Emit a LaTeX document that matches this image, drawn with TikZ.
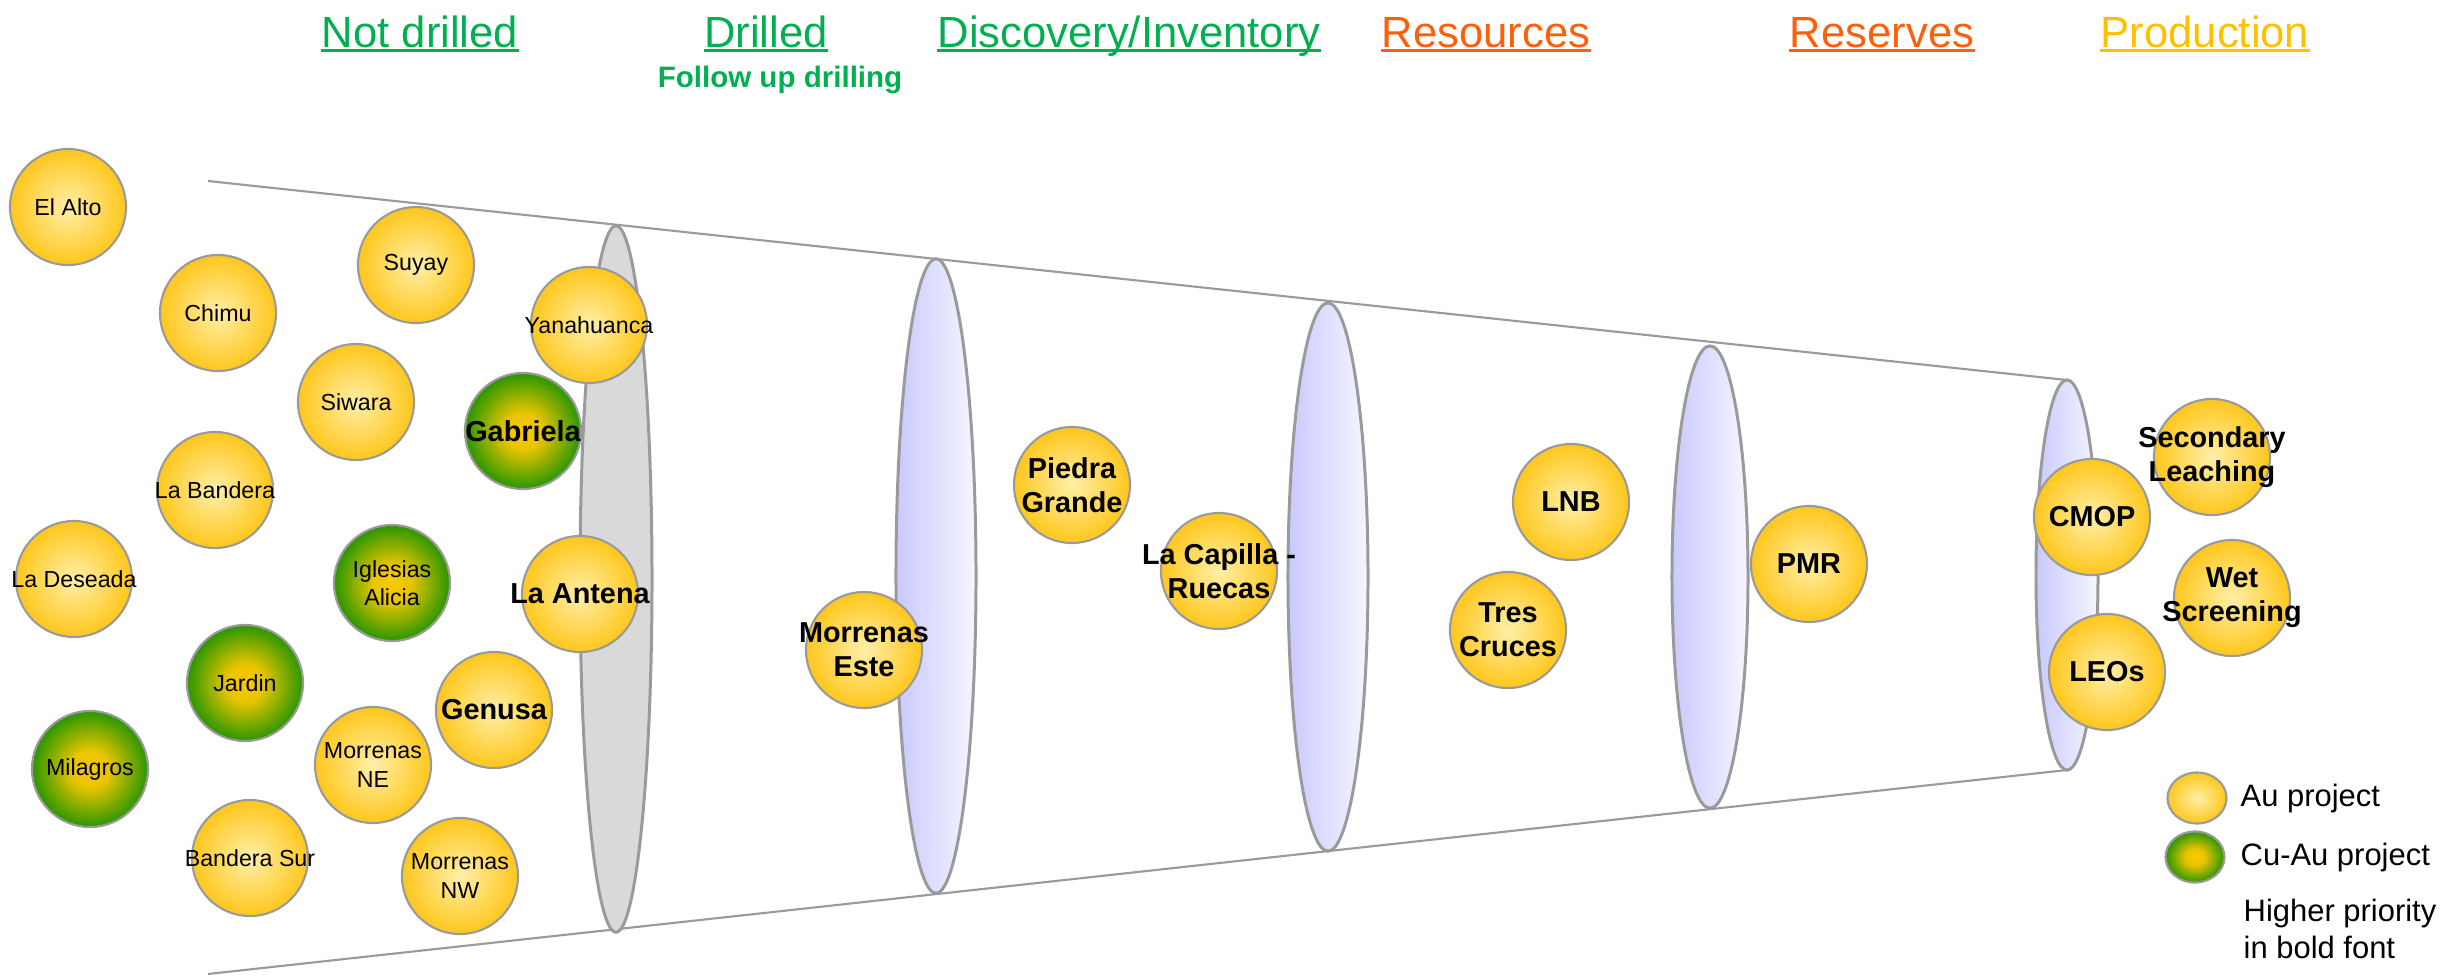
\documentclass[tikz,border=0pt]{standalone}
\usepackage{fontspec}
\setmainfont{Liberation Sans}
\usetikzlibrary{shapes.geometric}

\definecolor{drillgreen}{HTML}{00B050}
\definecolor{resorange}{HTML}{FF5F0A}
\definecolor{prodyellow}{HTML}{FFC000}
\definecolor{rimgrey}{HTML}{9A9A9A}
\definecolor{goldout}{HTML}{FFC71C}
\definecolor{goldin}{HTML}{FFEFA8}
\definecolor{cugreen}{HTML}{2A9600}
\definecolor{cuyellow}{HTML}{F9C900}
\definecolor{discgrey}{HTML}{D9D9D9}
\definecolor{lilac}{HTML}{C9C9FF}
\definecolor{lilacpale}{HTML}{F6F6FF}

% yellow core, green rim
\pgfdeclareradialshading{cuball}{\pgfpoint{0bp}{0bp}}{color(0bp)=(cuyellow); color(8bp)=(cuyellow!92!cugreen); color(25bp)=(cugreen); color(50bp)=(cugreen)}

\tikzset{
  proj/.style={circle, draw=rimgrey, line width=0.6pt, minimum size=1.16cm, inner sep=0pt},
  au/.style={proj, inner color=goldin, outer color=goldout},
  cuau/.style={proj, shade, shading=cuball},
  lo/.style={inner sep=0pt, align=center, font=\fontsize{6.6}{8}\selectfont},
  hi/.style={inner sep=0pt, align=center, font=\fontsize{8.2}{9.7}\selectfont\bfseries},
  stage/.style={inner sep=0pt, anchor=base, font=\fontsize{12.4}{14}\selectfont},
  lens/.style={draw=rimgrey, line width=0.85pt, left color=lilac, right color=lilacpale},
  keytext/.style={anchor=west, inner sep=0pt, align=left, font=\fontsize{8.8}{10.5}\selectfont},
}

\begin{document}
\begin{tikzpicture}[x=0.01cm, y=-0.01cm]
\useasboundingbox (0,0) rectangle (2447,975);

% stage titles
\foreach \nm/\x/\txt/\col in {nd/420/Not drilled/drillgreen, dr/766/Drilled/drillgreen,
    disc/1129/{Discovery/Inventory}/drillgreen, res/1486/Resources/resorange,
    rsv/1882/Reserves/resorange, prod/2205/Production/prodyellow}{
  \node[stage, text=\col] (\nm) at (\x,47) {\txt};
  \draw[\col, line width=0.6pt] ([yshift=-1pt]\nm.base west) -- ([yshift=-1pt]\nm.base east);
}
\node[anchor=base, inner sep=0pt, text=drillgreen, font=\fontsize{8.4}{10}\selectfont\bfseries] (fud) at (780,87) {Follow up drilling};

% funnel
\coordinate (tl) at (208,181);
\coordinate (tr) at (2067,380);
\coordinate (bl) at (208,974);
\coordinate (br) at (2067,770);

\draw [rimgrey, line width=0.6pt] (tl) -- (tr);
\draw [rimgrey, line width=0.6pt] (bl) -- (br);

\draw [draw=rimgrey, line width=0.85pt, fill=discgrey] (616,579) ellipse (0.36cm and 3.53cm);
\draw [lens] (936,576) ellipse (0.40cm and 3.17cm);
\draw [lens] (1328,577) ellipse (0.40cm and 2.74cm);
\draw [lens] (1710,577) ellipse (0.38cm and 2.31cm);
\draw [lens] (2067,575) ellipse (0.31cm and 1.95cm);

% not drilled
\node[au, label={[lo]center:El Alto}] (elalto) at (68,207) {};
\node[au, label={[lo]center:Chimu}] (chimu) at (218,313) {};
\node[au, label={[lo]center:Suyay}] (suyay) at (416,265) {};
\node[au, label={[lo]center:Yanahuanca}] (yana) at (589,325) {};
\node[au, label={[lo]center:Siwara}] (siwara) at (356,402) {};
\node[cuau, label={[hi]center:Gabriela}] (gabriela) at (523,431) {};
\node[au, label={[lo]center:La Bandera}] (bandera) at (215,490) {};
\node[au, label={[lo]center:La Deseada}] (deseada) at (74,579) {};
\node[cuau, label={[lo]center:{Iglesias\\Alicia}}] (iglesias) at (392,583) {};
\node[au, label={[hi]center:La Antena}] (antena) at (580,594) {};
\node[cuau, label={[lo]center:Jardin}] (jardin) at (245,683) {};
\node[au, label={[hi]center:Genusa}] (genusa) at (494,710) {};
\node[au, label={[lo]center:{Morrenas\\NE}}] (morrne) at (373,765) {};
\node[cuau, label={[lo]center:Milagros}] (milagros) at (90,769) {};
\node[au, label={[lo]center:Bandera Sur}] (bandsur) at (250,858) {};
\node[au, label={[lo]center:{Morrenas\\NW}}] (morrnw) at (460,876) {};

% drilled onwards
\node[au, label={[hi]center:{Morrenas\\Este}}] (morreste) at (864,650) {};
\node[au, label={[hi]center:{Piedra\\Grande}}] (piedra) at (1072,485) {};
\node[au, label={[hi]center:{La Capilla -\\Ruecas}}] (capilla) at (1219,571) {};
\node[au, label={[hi]center:LNB}] (lnb) at (1571,502) {};
\node[au, label={[hi]center:{Tres\\Cruces}}] (tres) at (1508,630) {};
\node[au, label={[hi]center:PMR}] (pmr) at (1809,564) {};
\node[au, label={[hi]center:CMOP}] (cmop) at (2092,517) {};
\node[au, label={[hi]center:LEOs}] (leos) at (2107,672) {};
\node[au, label={[hi]center:{Secondary\\Leaching}}] (secleach) at (2212,457) {};
\node[au, label={[hi]center:{Wet\\Screening}}] (wetscr) at (2232,598) {};

% key
\node[ellipse, draw=rimgrey, line width=0.6pt, inner color=goldin, outer color=goldout,
  minimum width=0.59cm, minimum height=0.51cm, inner sep=0pt] (keyau) at (2197,798) {};
\node[ellipse, draw=rimgrey, line width=0.6pt, shade, shading=cuball,
  minimum width=0.59cm, minimum height=0.51cm, inner sep=0pt] (keycu) at (2195,857) {};
\node[keytext] (keyautxt) at (2240,798) {Au project};
\node[keytext] (keycutxt) at (2240,857) {Cu-Au project};
\node[keytext] (keybold) at (2243,929) {Higher priority\\in bold font};

\end{tikzpicture}
\end{document}
